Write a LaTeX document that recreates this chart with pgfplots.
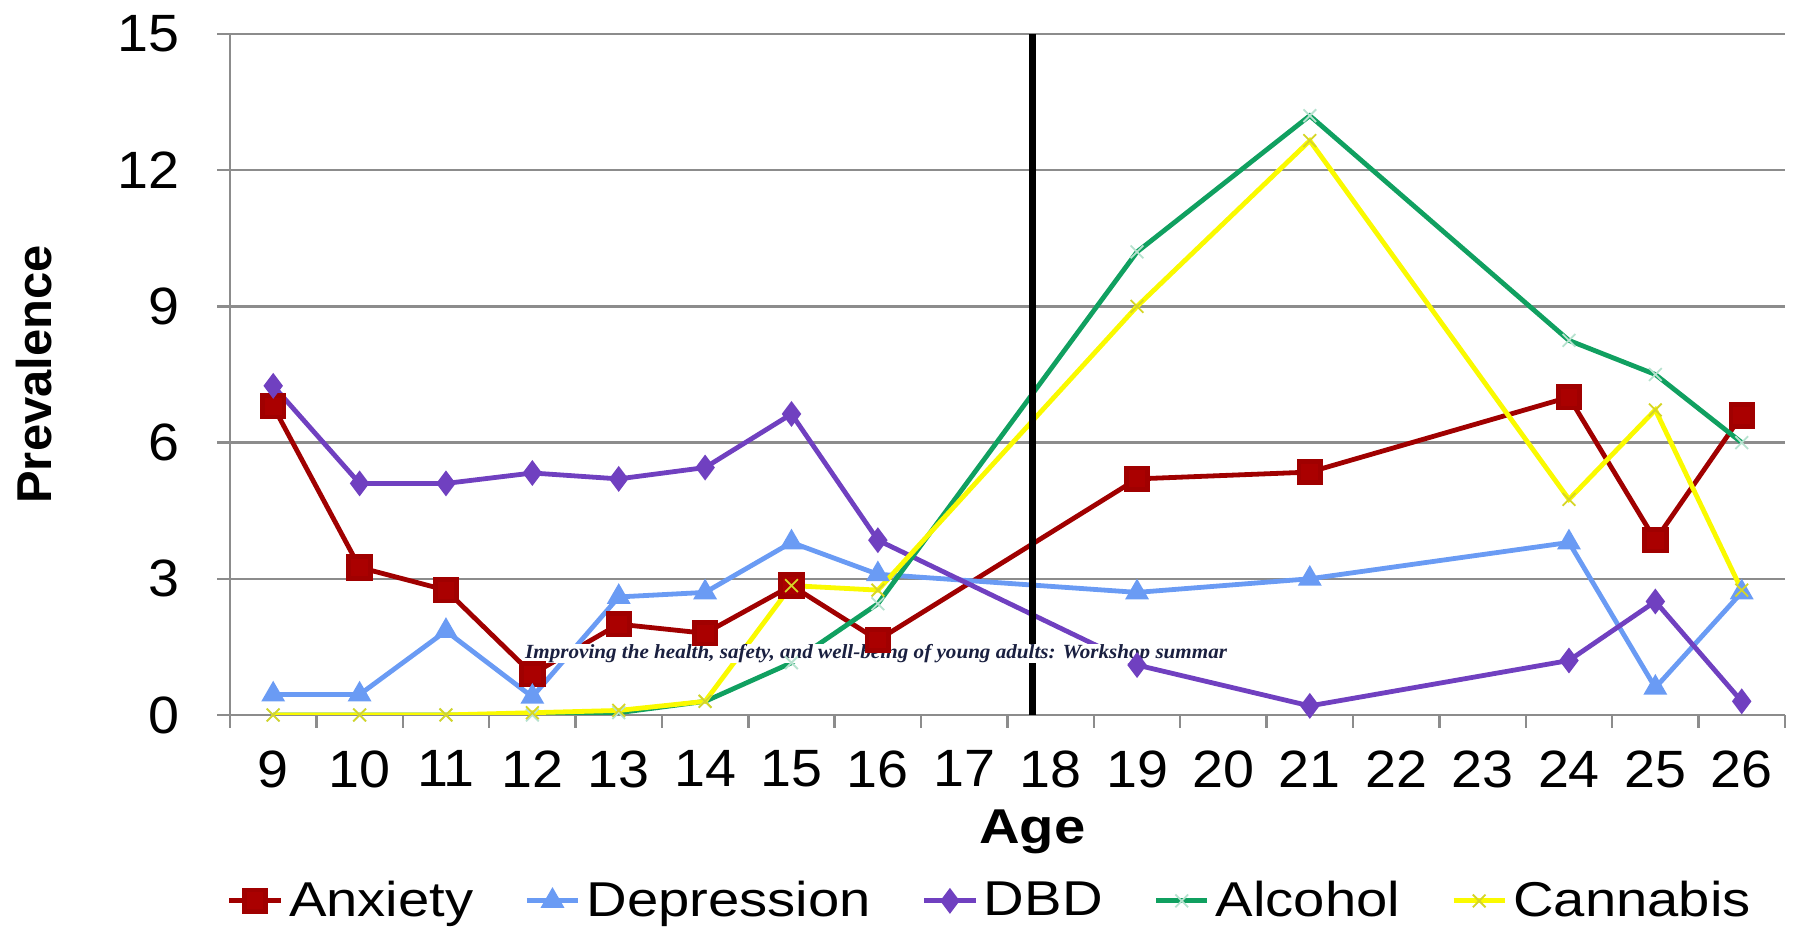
\documentclass[border=0pt]{standalone}
\usepackage{fontspec}
\setmainfont{Liberation Sans}[FakeStretch=1.15]
\newfontfamily\tickfont{Liberation Sans}[FakeStretch=1.06]
\newfontfamily\ylabfont{Liberation Sans}
\newfontfamily\wmfont{Liberation Serif}[FakeStretch=1.05]
\usepackage{pgfplots}
\pgfplotsset{compat=1.18}

\definecolor{anx}{HTML}{A00000}
\definecolor{dep}{HTML}{6A9BF4}
\definecolor{dbd}{HTML}{7040C0}
\definecolor{alc}{HTML}{10A060}
\definecolor{can}{HTML}{FAFA00}
\definecolor{gridc}{HTML}{8C8C8C}
\definecolor{wm}{HTML}{1A2040}

\newcommand\fsz{\fontsize{16.3}{19}\selectfont}
\newcommand\tsz{\tickfont\fontsize{17.5}{20}\selectfont}

\begin{document}
\begin{tikzpicture}
\begin{axis}[
  scale only axis,
  width=518.3pt, height=227pt,
  xmin=8.5, xmax=26.5,
  ymin=0, ymax=15,
  axis x line*=bottom, axis y line*=left,
  axis line style={gridc, line width=0.8pt},
  xtick={8.5,9.5,...,26.5},
  x tick label as interval,
  xticklabels={9,10,11,12,13,14,15,16,17,18,19,20,21,22,23,24,25,26},
  ytick={0,3,6,9,12,15},
  /pgf/number format/assume math mode=true,
  tick align=outside,
  major tick length=4.3pt,
  tick style={gridc, line width=0.8pt},
  ymajorgrids=true,
  grid style={gridc, line width=0.8pt},
  tick label style={font=\tsz},
  xticklabel style={yshift=-4pt},
  yticklabel style={xshift=-9pt},
  xlabel={Age},
  ylabel={Prevalence},
  xlabel style={font=\fsz\bfseries, at={(axis description cs:0.516,-0.189)}, anchor=base},
  ylabel style={font=\ylabfont\fsz\bfseries, at={(axis description cs:-0.126,0.5)}, anchor=center},
  legend columns=5,
  legend style={at={(0.49,-0.273)}, anchor=center, draw=none, font=\fsz,
    /tikz/every even column/.append style={column sep=15pt}},
  every axis plot/.append style={line width=1.6pt},
]
\addplot[color=anx, mark=square*, mark size=3.6pt, mark options={fill=anx!90!red}]
  coordinates {(9,6.8)(10,3.25)(11,2.75)(12,0.9)(13,2.0)(14,1.8)(15,2.85)(16,1.65)(19,5.2)(21,5.35)(24,7.0)(25,3.85)(26,6.6)};
\addlegendentry{Anxiety}
\addplot[color=dep, mark=triangle*, mark size=3pt]
  coordinates {(9,0.45)(10,0.45)(11,1.85)(12,0.4)(13,2.6)(14,2.7)(15,3.8)(16,3.1)(19,2.7)(21,3.0)(24,3.8)(25,0.6)(26,2.7)};
\addlegendentry{Depression}
\addplot[color=dbd, mark=diamond*, mark size=3pt]
  coordinates {(9,7.25)(10,5.1)(11,5.1)(12,5.33)(13,5.2)(14,5.45)(15,6.63)(16,3.85)(19,1.1)(21,0.2)(24,1.2)(25,2.5)(26,0.3)};
\addlegendentry{DBD}
\addplot[color=alc, mark=x, mark size=3pt, mark options={alc!30!white, line width=0.6pt}]
  coordinates {(9,0)(10,0)(11,0)(12,0)(13,0.05)(14,0.3)(15,1.15)(16,2.45)(19,10.2)(21,13.2)(24,8.25)(25,7.5)(26,6.0)};
\addlegendentry{Alcohol}
\addplot[color=can, mark=x, mark size=3pt, mark options={gray!30!can, line width=0.6pt}]
  coordinates {(9,0)(10,0)(11,0)(12,0.05)(13,0.1)(14,0.3)(15,2.85)(16,2.75)(19,9.0)(21,12.65)(24,4.75)(25,6.72)(26,2.75)};
\addlegendentry{Cannabis}
\addplot[black, line width=2.4pt, forget plot] coordinates {(17.79,0)(17.79,15)};
\node[fill=white, inner xsep=0.5pt, inner ysep=0pt, text=wm, font=\wmfont\fontsize{6.7}{8}\selectfont\bfseries\itshape]
  at (axis cs:15.98,1.35) {Improving the health, safety, and well-being of young adults: Workshop summar};
\end{axis}
\pgfresetboundingbox
\path ([shift={(-76.67pt,-71pt)}]current axis.south west) rectangle ([shift={(523.33pt,238.33pt)}]current axis.south west);
\end{tikzpicture}
\end{document}
